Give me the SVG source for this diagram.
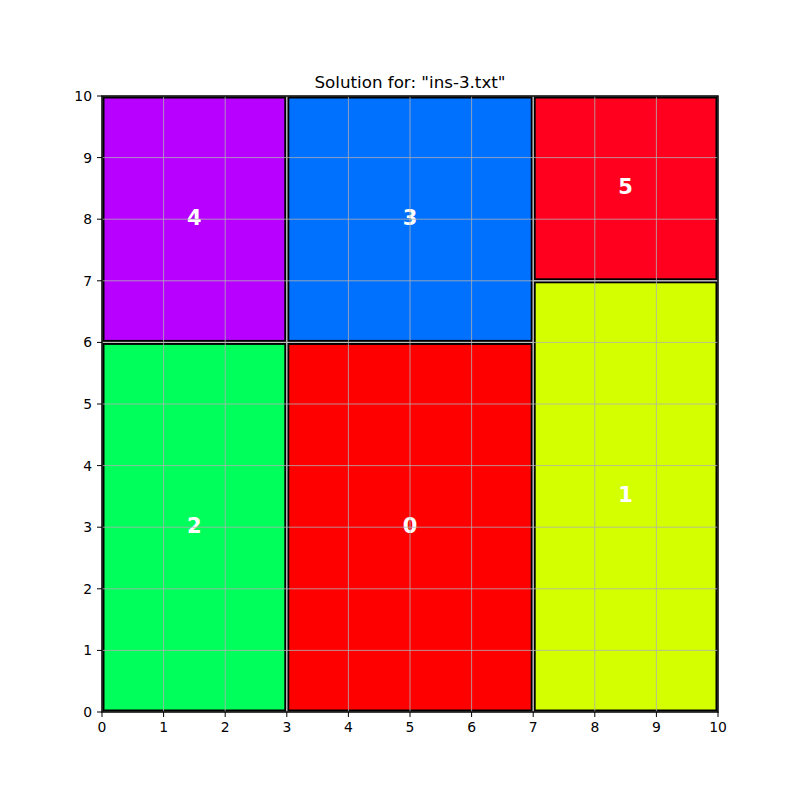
<svg xmlns="http://www.w3.org/2000/svg" width="800" height="800" viewBox="0 0 800 800">
<style>
.r{stroke:#000;stroke-width:2}
.lbl{font-family:"DejaVu Sans",sans-serif;font-weight:bold;font-size:21px;fill:#fff;text-anchor:middle}
.tk{font-family:"DejaVu Sans",sans-serif;font-size:13.9px;fill:#000}
.grid line{stroke:#b0b0b0;stroke-width:0.8}
.ticks line{stroke:#000;stroke-width:1}
</style>
<rect width="800" height="800" fill="#fff"/>
<g id="node-0"><rect class="r" x="288.3" y="343.9" width="243.4" height="366.6" fill="#ff0000"/><text class="lbl" x="410" y="533">0</text></g>
<g id="node-1"><rect class="r" x="534.7" y="282.3" width="181.8" height="428.2" fill="#d4ff00"/><text class="lbl" x="625.6" y="502.2">1</text></g>
<g id="node-2"><rect class="r" x="103.5" y="343.9" width="181.8" height="366.6" fill="#00ff5b"/><text class="lbl" x="194.4" y="533">2</text></g>
<g id="node-3"><rect class="r" x="288.3" y="97.5" width="243.4" height="243.4" fill="#0070ff"/><text class="lbl" x="410" y="225">3</text></g>
<g id="node-4"><rect class="r" x="103.5" y="97.5" width="181.8" height="243.4" fill="#b700ff"/><text class="lbl" x="194.4" y="225">4</text></g>
<g id="node-5"><rect class="r" x="534.7" y="97.5" width="181.8" height="181.8" fill="#ff001e"/><text class="lbl" x="625.6" y="194">5</text></g>
<g class="grid">
<line x1="163.6" y1="96" x2="163.6" y2="712"/><line x1="225.2" y1="96" x2="225.2" y2="712"/><line x1="286.8" y1="96" x2="286.8" y2="712"/><line x1="348.4" y1="96" x2="348.4" y2="712"/><line x1="410" y1="96" x2="410" y2="712"/><line x1="471.6" y1="96" x2="471.6" y2="712"/><line x1="533.2" y1="96" x2="533.2" y2="712"/><line x1="594.8" y1="96" x2="594.8" y2="712"/><line x1="656.4" y1="96" x2="656.4" y2="712"/>
<line x1="102" y1="650.4" x2="718" y2="650.4"/><line x1="102" y1="588.8" x2="718" y2="588.8"/><line x1="102" y1="527.2" x2="718" y2="527.2"/><line x1="102" y1="465.6" x2="718" y2="465.6"/><line x1="102" y1="404" x2="718" y2="404"/><line x1="102" y1="342.4" x2="718" y2="342.4"/><line x1="102" y1="280.8" x2="718" y2="280.8"/><line x1="102" y1="219.2" x2="718" y2="219.2"/><line x1="102" y1="157.6" x2="718" y2="157.6"/>
</g>
<rect x="102" y="96" width="616" height="616" fill="none" stroke="#000" stroke-width="1.5"/>
<g class="ticks">
<line x1="102" y1="712" x2="102" y2="717"/><line x1="163.6" y1="712" x2="163.6" y2="717"/><line x1="225.2" y1="712" x2="225.2" y2="717"/><line x1="286.8" y1="712" x2="286.8" y2="717"/><line x1="348.4" y1="712" x2="348.4" y2="717"/><line x1="410" y1="712" x2="410" y2="717"/><line x1="471.6" y1="712" x2="471.6" y2="717"/><line x1="533.2" y1="712" x2="533.2" y2="717"/><line x1="594.8" y1="712" x2="594.8" y2="717"/><line x1="656.4" y1="712" x2="656.4" y2="717"/><line x1="718" y1="712" x2="718" y2="717"/>
<line x1="97" y1="712" x2="102" y2="712"/><line x1="97" y1="650.4" x2="102" y2="650.4"/><line x1="97" y1="588.8" x2="102" y2="588.8"/><line x1="97" y1="527.2" x2="102" y2="527.2"/><line x1="97" y1="465.6" x2="102" y2="465.6"/><line x1="97" y1="404" x2="102" y2="404"/><line x1="97" y1="342.4" x2="102" y2="342.4"/><line x1="97" y1="280.8" x2="102" y2="280.8"/><line x1="97" y1="219.2" x2="102" y2="219.2"/><line x1="97" y1="157.6" x2="102" y2="157.6"/><line x1="97" y1="96" x2="102" y2="96"/>
</g>
<g class="tk" text-anchor="middle">
<text x="102" y="732">0</text><text x="163.6" y="732">1</text><text x="225.2" y="732">2</text><text x="286.8" y="732">3</text><text x="348.4" y="732">4</text><text x="410" y="732">5</text><text x="471.6" y="732">6</text><text x="533.2" y="732">7</text><text x="594.8" y="732">8</text><text x="656.4" y="732">9</text><text x="718" y="732">10</text>
</g>
<g class="tk" text-anchor="end">
<text x="92" y="717">0</text><text x="92" y="655.4">1</text><text x="92" y="593.8">2</text><text x="92" y="532.2">3</text><text x="92" y="470.6">4</text><text x="92" y="409">5</text><text x="92" y="347.4">6</text><text x="92" y="285.8">7</text><text x="92" y="224.2">8</text><text x="92" y="162.6">9</text><text x="92" y="101">10</text>
</g>
<text x="410" y="88" font-family="DejaVu Sans, sans-serif" font-size="16.7" text-anchor="middle" fill="#000">Solution for: "ins-3.txt"</text>
</svg>
